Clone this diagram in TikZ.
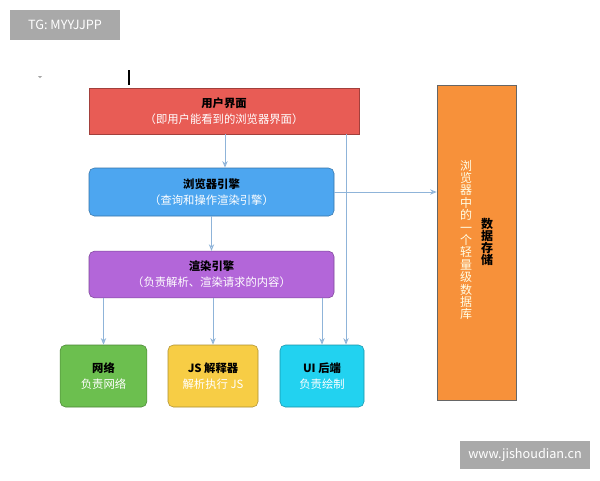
\documentclass[tikz,border=0pt]{standalone}
\usepackage{fontspec}
\setmainfont{Noto Sans CJK SC}
\usetikzlibrary{arrows.meta}
\definecolor{cred}{HTML}{E85C55}
\definecolor{cblue}{HTML}{4DA6F0}
\definecolor{cpurple}{HTML}{B366D9}
\definecolor{cgreen}{HTML}{6CBF4F}
\definecolor{cyellow}{HTML}{F7CD45}
\definecolor{ccyan}{HTML}{22D2F0}
\definecolor{corange}{HTML}{F7913A}
\definecolor{carrow}{HTML}{8FB4D9}
\definecolor{cgray}{HTML}{A9A9A9}
\tikzset{
 box/.style={draw=#1!70!black, fill=#1, minimum height=0pt, inner sep=0pt, align=center, font=\fontsize{8.5}{12}\selectfont},
 conn/.style={draw=carrow, line width=0.6pt, -{Stealth[length=5pt,width=4pt,open]}},
 tag/.style={fill=cgray, text=white, inner sep=0pt, font=\fontsize{9.5}{11}\selectfont}
}
\newcommand{\ttl}[1]{{\bfseries #1}}
\begin{document}
\begin{tikzpicture}[x=0.75pt,y=-0.75pt]
\useasboundingbox (0,0) rectangle (600,480);
\fill[white] (0,0) rectangle (600,480);
\node[tag, minimum width=82.5pt, minimum height=22.5pt] (tg) at (65,25) {TG: MYYJJPP};
\node[tag, minimum width=97.5pt, minimum height=21pt] (www) at (525,455) {www.jishoudian.cn};
\draw[black, line width=1pt] (129,70) -- (129,85);
\fill[gray!70] (38,76) -- (42,76) -- (40,78) -- cycle;

\node[box=cred, minimum width=202.5pt, minimum height=34.5pt] (ui) at (224,111) {\ttl{用户界面}\\ \textcolor{white}{（即用户能看到的浏览器界面）}};
\node[box=cblue, rounded corners=4pt, minimum width=183.75pt, minimum height=36pt] (be) at (211.5,192) {\ttl{浏览器引擎}\\ \textcolor{white}{（查询和操作渲染引擎）}};
\node[box=cpurple, rounded corners=4pt, minimum width=183.75pt, minimum height=35pt] (re) at (211.5,274.5) {\ttl{渲染引擎}\\ \textcolor{white}{（负责解析、渲染请求的内容）}};
\node[box=cgreen, rounded corners=4pt, minimum width=65pt, minimum height=46.5pt] (net) at (103.5,376) {\ttl{网络}\\ \textcolor{white}{负责网络}};
\node[box=cyellow, rounded corners=4pt, minimum width=67.5pt, minimum height=46.5pt] (js) at (213,376) {\ttl{JS 解释器}\\ \textcolor{white}{解析执行 JS}};
\node[box=ccyan, rounded corners=4pt, minimum width=63pt, minimum height=46.5pt] (uib) at (322,376) {\ttl{UI 后端}\\ \textcolor{white}{负责绘制}};
\node[box=corange, draw=gray!80!black, minimum width=59.25pt, minimum height=236pt] (ds) at (476.5,242.5) {};
\node[text=white!90!yellow, align=center, inner sep=0pt, font=\fontsize{9}{9.3}\selectfont] (dst) at (466,240) {浏\\览\\器\\中\\的\\一\\个\\轻\\量\\级\\数\\据\\库};
\node[align=center, inner sep=0pt, font=\fontsize{9}{8.8}\selectfont\bfseries] (dsh) at (487,242) {数\\据\\存\\储};

\coordinate (b) at (225,134);
\draw[conn] (b) -- (b |- be.north);
\coordinate (a) at (346,134);
\draw[conn] (a) -- (a |- uib.north);
\draw[conn] (be.east) -- (be.east -| ds.west);
\draw[conn] (be.south) -- (re.north);
\draw[conn] (re.south -| net.north) -- (net.north);
\draw[conn] (re.south -| js.north) -- (js.north);
\draw[conn] (re.south -| uib.north) -- (uib.north);
\end{tikzpicture}
\end{document}
